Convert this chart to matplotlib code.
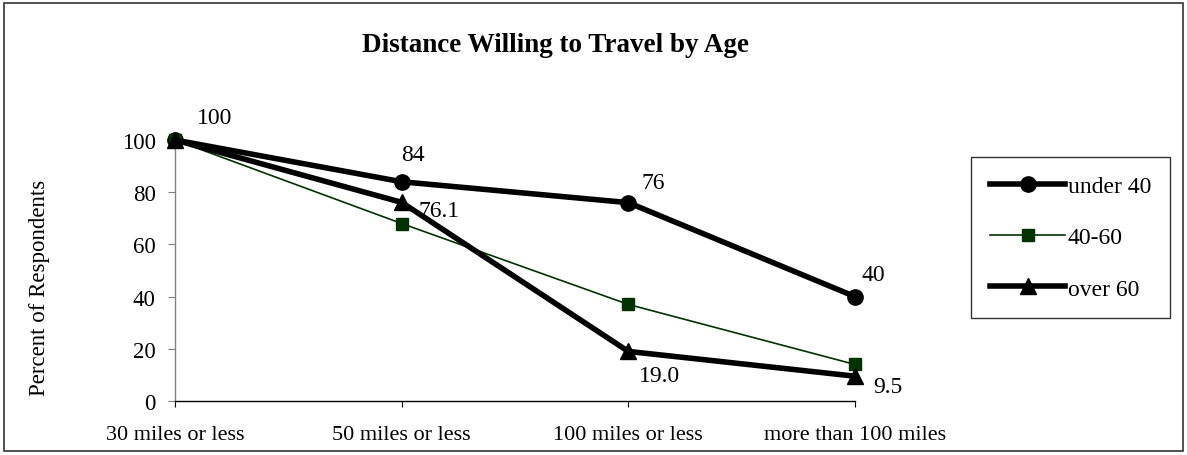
import matplotlib
matplotlib.use('Agg')
import matplotlib.pyplot as plt
from matplotlib.patches import Rectangle

# Data
categories = ['30 miles or less', '50 miles or less', '100 miles or less', 'more than 100 miles']
under_40 = [100, 84, 76, 40]
age_40_60 = [100, 68, 37, 14]
over_60 = [100, 76.1, 19.0, 9.5]

plt.rcParams['font.family'] = ['Liberation Serif', 'DejaVu Serif']

W, H = 1187, 456
fig = plt.figure(figsize=(W / 100, H / 100), dpi=100)
ax = fig.add_axes([175 / W, 1 - 402 / H, 680 / W, (402 - 141) / H])

x = list(range(len(categories)))

ax.plot(x, under_40, color='black', lw=4, marker='o', ms=11, clip_on=False,
        label='under 40', zorder=3)
ax.plot(x, age_40_60, color='#003300', lw=1.2, marker='s', ms=8, mfc='#003300',
        mec='#003300', clip_on=False, label='40-60', zorder=4)
ax.plot(x, over_60, color='black', lw=4, marker='^', ms=11, clip_on=False,
        label='over 60', zorder=5)

# data labels
u_off = [(40, 22), (11, 27), (25, 20), (18, 22)]
for i, v in enumerate(under_40):
    ax.annotate('%.0f' % v, (x[i], v), xytext=u_off[i], textcoords='offset pixels',
                ha='center', va='center', fontsize=17)
o_off = [(37, -8), (31, -24), (33, -10)]
for i, v in enumerate(over_60[1:]):
    ax.annotate('%.1f' % v, (x[i + 1], v), xytext=o_off[i], textcoords='offset pixels',
                ha='center', va='center', fontsize=17)

ax.set_xlim(0, 3)
ax.set_ylim(0, 100)
ax.set_yticks([0, 20, 40, 60, 80, 100])
ax.set_xticks(x)
ax.set_xticklabels(categories, fontsize=16)
ax.tick_params(axis='y', labelsize=16.5, length=5, pad=9, color='#808080')
ax.tick_params(axis='x', length=4, pad=13, color='black')

ax.spines['top'].set_visible(False)
ax.spines['right'].set_visible(False)
ax.spines['left'].set_color('#808080')
ax.spines['left'].set_linewidth(1)
ax.spines['bottom'].set_color('black')
ax.spines['bottom'].set_linewidth(1)

fig.text(40 / W, 1 - 288 / H, 'Percent of Respondents', rotation=90,
         ha='center', va='center', fontsize=16.5)
fig.text(555 / W, 1 - 46 / H, 'Distance Willing to Travel by Age', ha='center',
         va='center', fontsize=19.5, fontweight='bold')

leg = ax.legend(loc='upper left', bbox_to_anchor=(971 / W, 1 - 158 / H),
                bbox_transform=fig.transFigure, fontsize=17, frameon=True,
                fancybox=False, handlelength=3.2, handletextpad=0.1,
                labelspacing=1.25, borderpad=0.8, borderaxespad=0)
leg.get_frame().set_edgecolor('black')
leg.get_frame().set_linewidth(1)

# chart border
fig.patches.append(Rectangle((4 / W, 4 / H), 1179 / W, 448 / H, transform=fig.transFigure,
                             fill=False, edgecolor='#333333', lw=1.2))

fig.savefig('out.png', dpi=100)
